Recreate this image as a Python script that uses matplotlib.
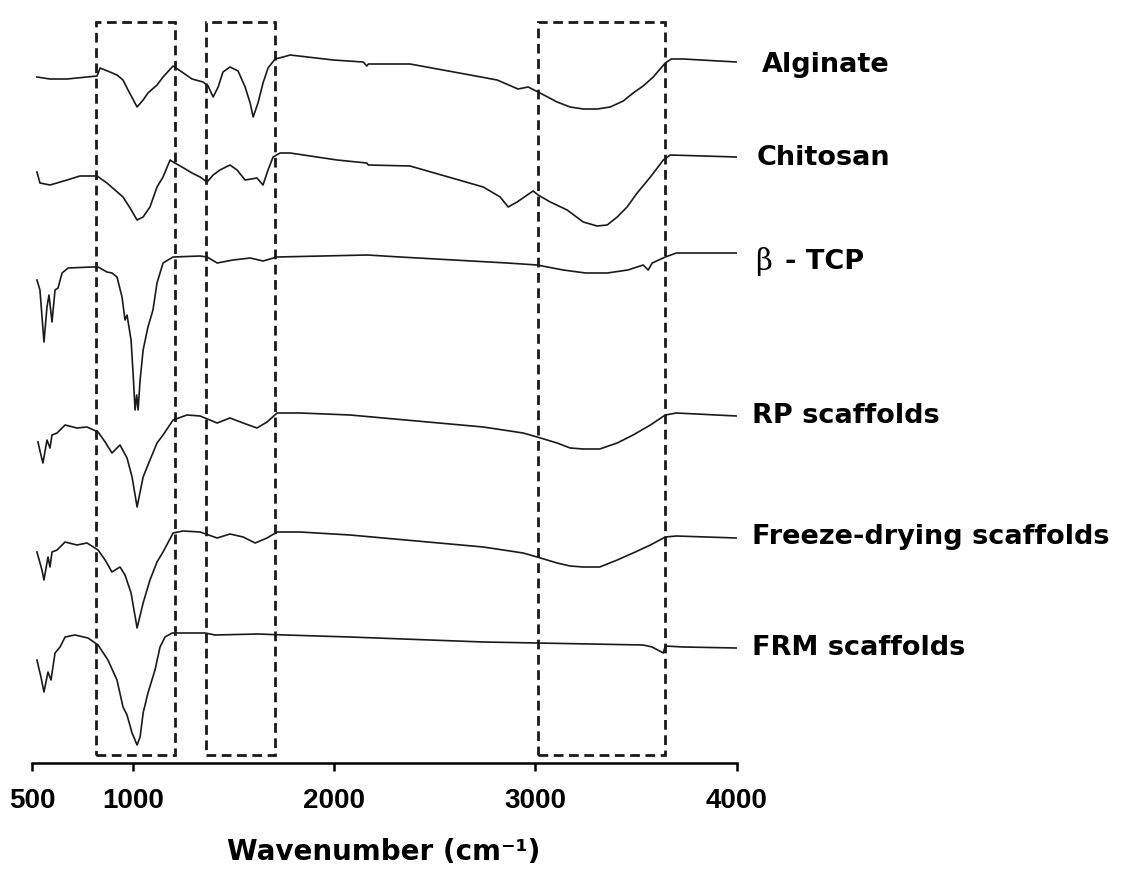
import matplotlib
matplotlib.use("Agg")
import matplotlib.pyplot as plt
from matplotlib.patches import Rectangle

# FTIR spectra, stacked (arbitrary transmittance units with offsets)
alginate_x = [522, 587, 672, 771, 821, 836, 885, 920, 950, 975, 1020, 1050, 1074, 1119, 1149, 1199,
              1243, 1293, 1348, 1373, 1398, 1423, 1447, 1482, 1522, 1557, 1582, 1597, 1621, 1646, 1671,
              1706, 1746, 1781, 1995, 2144, 2162, 2170, 2377, 2676, 2810, 2914, 2964, 3014, 3108, 3173,
              3238, 3307, 3372, 3437, 3486, 3536, 3586, 3646, 3676, 3736, 4000]
alginate_y = [686, 684, 684, 686, 687, 695, 691, 688, 683, 673, 656, 663, 670, 678, 686, 697,
              691, 684, 681, 677, 666, 676, 691, 696, 692, 676, 660, 646, 660, 680, 695,
              704, 706, 708, 703, 701, 697, 699, 699, 688, 683, 674, 676, 671, 661, 656,
              654, 654, 656, 662, 670, 677, 686, 700, 704, 704, 701]

chitosan_x = [522, 537, 587, 672, 736, 821, 870, 910, 950, 985, 1020, 1050, 1084, 1119, 1149, 1184,
              1199, 1243, 1293, 1333, 1368, 1398, 1432, 1482, 1517, 1557, 1616, 1646, 1671, 1696,
              1731, 1781, 2014, 2162, 2170, 2377, 2741, 2825, 2865, 2909, 2989, 3014, 3074, 3158,
              3238, 3307, 3357, 3407, 3456, 3506, 3572, 3636, 3671, 4000]
chitosan_y = [591, 580, 578, 583, 587, 587, 580, 573, 566, 555, 543, 546, 556, 576, 586, 603,
              601, 596, 590, 586, 581, 588, 593, 598, 593, 583, 585, 578, 593, 606,
              610, 610, 603, 600, 598, 597, 576, 566, 556, 561, 572, 568, 561, 553,
              541, 537, 538, 546, 556, 570, 586, 603, 608, 606]

tcp_x = [522, 537, 557, 572, 582, 597, 612, 627, 647, 677, 796, 826, 870, 895, 920, 945, 960, 970,
         990, 1000, 1010, 1018, 1025, 1035, 1050, 1074, 1099, 1119, 1149, 1199, 1333, 1368, 1418,
         1497, 1582, 1646, 1716, 2164, 2328, 2860, 3009, 3138, 3250, 3357, 3460, 3536, 3561, 3581,
         3646, 3701, 4000]
tcp_y = [483, 473, 421, 456, 468, 441, 473, 475, 490, 495, 496, 496, 491, 490, 486, 466, 443, 448,
         423, 390, 353, 368, 353, 383, 413, 436, 453, 480, 500, 506, 507, 506, 500,
         503, 505, 502, 506, 508, 506, 500, 498, 493, 490, 490, 493, 498, 493, 500,
         506, 510, 510]

rp_x = [527, 542, 552, 572, 587, 597, 622, 662, 721, 771, 826, 861, 895, 935, 970, 995, 1020, 1050,
        1084, 1119, 1149, 1199, 1268, 1333, 1418, 1482, 1547, 1616, 1666, 1716, 1830, 2079, 2741,
        2939, 3009, 3108, 3173, 3238, 3320, 3407, 3486, 3572, 3646, 3701, 4000]
rp_y = [321, 308, 300, 323, 315, 328, 330, 338, 335, 336, 331, 321, 310, 318, 305, 286, 256, 286,
        303, 320, 328, 343, 348, 347, 340, 345, 340, 335, 341, 350, 350, 348, 336,
        330, 326, 320, 315, 314, 314, 320, 328, 338, 348, 350, 347]

freeze_x = [522, 547, 557, 577, 587, 597, 622, 662, 721, 771, 826, 861, 895, 935, 960, 990, 1020, 1050,
            1084, 1119, 1149, 1199, 1248, 1333, 1418, 1482, 1547, 1607, 1666, 1716, 1830, 2079, 2741,
            2939, 3009, 3108, 3173, 3238, 3320, 3407, 3486, 3572, 3646, 3701, 4000]
freeze_y = [211, 193, 183, 206, 196, 211, 213, 221, 218, 220, 213, 203, 191, 196, 188, 170, 135, 160,
            183, 201, 211, 230, 232, 231, 225, 229, 226, 220, 225, 231, 231, 228, 216,
            210, 206, 200, 197, 196, 196, 203, 210, 218, 226, 227, 225]

frm_x = [522, 542, 557, 577, 592, 612, 637, 662, 711, 776, 826, 875, 920, 950, 970, 995, 1020, 1035,
         1050, 1074, 1109, 1134, 1159, 1194, 1358, 1408, 1621, 1756, 2079, 2741, 3009, 3536, 3581,
         3636, 3646, 3736, 4000]
frm_y = [103, 86, 71, 91, 83, 110, 116, 126, 128, 125, 118, 103, 83, 56, 48, 30, 18, 26,
         50, 70, 93, 116, 126, 130, 130, 128, 129, 128, 126, 121, 120, 118, 116,
         110, 117, 116, 115]

names = ["Alginate", "Chitosan", "- TCP", "RP scaffolds", "Freeze-drying scaffolds", "FRM scaffolds"]
label_x = [4128, 4098, 4242, 4078, 4078, 4078]
label_y = [698, 605, 501, 347, 226, 115]

# highlighted bands (wavenumber ranges)
band_lo = [818, 1361, 3012]
band_hi = [1206, 1704, 3644]

series = [(alginate_x, alginate_y), (chitosan_x, chitosan_y), (tcp_x, tcp_y),
          (rp_x, rp_y), (freeze_x, freeze_y), (frm_x, frm_y)]

W, H = 1122, 894
fig = plt.figure(figsize=(W / 100, H / 100), dpi=100)
ax = fig.add_axes([32.5 / W, (H - 763) / H, 704 / W, 763 / H])

for xs, ys in series:
    ax.plot(xs, ys, color="#1a1a1a", lw=1.2)

for lo, hi in zip(band_lo, band_hi):
    ax.add_patch(Rectangle((lo, 8), hi - lo, 733, fill=False, ec="#1a1a1a", lw=2.0,
                           ls=(0, (3.5, 2))))

for name, lx, ly in zip(names, label_x, label_y):
    ax.text(lx, ly, name, fontsize=19.5, fontweight="bold", va="center", ha="left",
            family=["DejaVu Sans"], clip_on=False)
# the beta sign is set in a plain serif face
ax.text(4093, 501, "\u03b2", fontsize=21, va="center", ha="left",
        family=["DejaVu Serif"], clip_on=False)

ax.set_xlim(500, 4000)
ax.set_ylim(0, 763)
ax.set_xticks([500, 1000, 2000, 3000, 4000])
ax.set_yticks([])
for s in ["left", "top", "right"]:
    ax.spines[s].set_visible(False)
ax.spines["bottom"].set_linewidth(1.8)
ax.tick_params(axis="x", length=6, width=1.8, pad=12, labelsize=20)
for lab in ax.get_xticklabels():
    lab.set_fontweight("bold")
    lab.set_family(["Liberation Sans", "DejaVu Sans"])

fig.text(384 / W, 1 - 852 / H, "Wavenumber (cm\u207b\u00b9)", fontsize=20, fontweight="bold",
         ha="center", va="center", family=["DejaVu Sans"])

fig.savefig("out.png", dpi=100)
